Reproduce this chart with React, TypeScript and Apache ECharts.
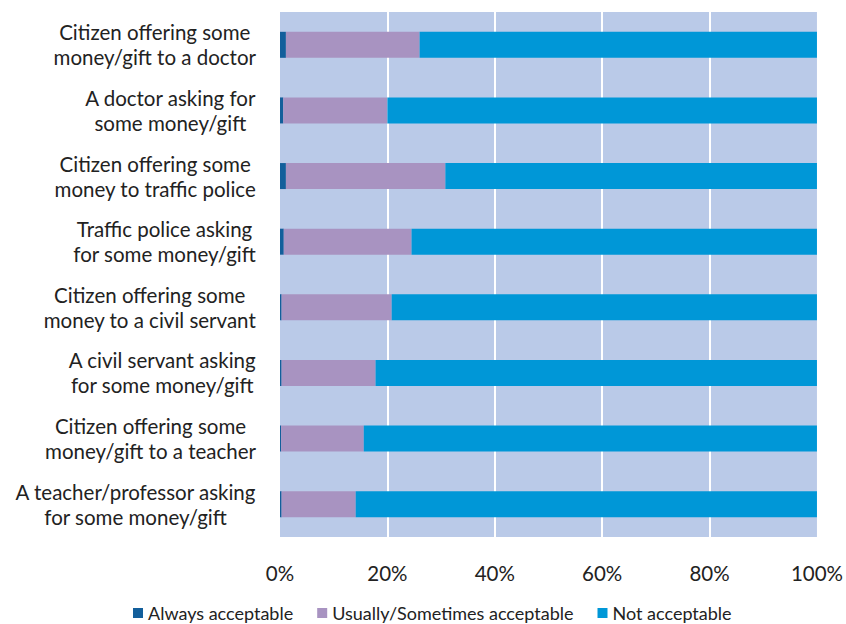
import React, { useEffect, useRef } from "react";
import * as echarts from "echarts";

const categories = [
  "Citizen offering some\nmoney/gift to a doctor",
  "A doctor asking for\nsome money/gift",
  "Citizen offering some\nmoney to traffic police",
  "Traffic police asking\nfor some money/gift",
  "Citizen offering some\nmoney to a civil servant",
  "A civil servant asking\nfor some money/gift",
  "Citizen offering some\nmoney/gift to a teacher",
  "A teacher/professor asking\nfor some money/gift",
];

const alwaysAcceptable = [1.1, 0.6, 1.1, 0.7, 0.3, 0.3, 0.2, 0.3];
const usuallyAcceptable = [24.9, 19.4, 29.7, 23.8, 20.5, 17.5, 15.4, 13.8];
const notAcceptable = [74.0, 80.0, 69.2, 75.5, 79.2, 82.2, 84.4, 85.9];

const tickLabels = ["0%", "20%", "40%", "60%", "80%", "100%"];

const FONT = "Lato";

export default function App() {
  const ref = useRef<HTMLDivElement>(null);
  useEffect(() => {
    if (!ref.current) return;
    const chart = echarts.init(ref.current, null, { renderer: "svg" });
    const mk = (name: string, data: number[], color: string) => ({
      name,
      type: "bar",
      stack: "total",
      barWidth: 26,
      data,
      itemStyle: { color },
    });
    chart.setOption({
      animation: false,
      textStyle: { fontFamily: FONT },
      grid: {
        left: 280,
        right: 28,
        top: 12,
        bottom: 87,
        show: true,
        backgroundColor: "#BACAE8",
        borderWidth: 0,
      },
      legend: {
        left: 133,
        top: 602,
        itemWidth: 10,
        itemHeight: 10,
        itemGap: 24,
        padding: 0,
        icon: "rect",
        textStyle: { fontFamily: FONT, fontSize: 18, lineHeight: 22, color: "#222" },
        data: ["Always acceptable", "Usually/Sometimes acceptable", "Not acceptable"],
      },
      xAxis: {
        type: "value",
        min: 0,
        max: 100,
        interval: 20,
        axisLine: { show: false },
        axisTick: { show: false },
        axisLabel: {
          margin: 25,
          fontFamily: FONT,
          fontSize: 20.5,
          color: "#222",
          formatter: (v: number) => tickLabels[Math.round(v / 20)],
        },
        splitLine: {
          show: true,
          showMinLine: false,
          showMaxLine: false,
          lineStyle: { color: "#FFFFFF", width: 2 },
        },
      },
      yAxis: {
        type: "category",
        inverse: true,
        data: categories,
        axisLine: { show: false },
        axisTick: { show: false },
        axisLabel: {
          margin: 24,
          fontFamily: FONT,
          fontSize: 20.5,
          lineHeight: 25,
          color: "#222",
          formatter: (v: string) =>
            v
              .split("\n")
              .map((s) => `{c|${s}}`)
              .join("\n"),
          rich: {
            c: { align: "center", fontFamily: FONT, fontSize: 20.5, lineHeight: 25, color: "#222" },
          },
        },
      },
      series: [
        mk("Always acceptable", alwaysAcceptable, "#135F9B"),
        mk("Usually/Sometimes acceptable", usuallyAcceptable, "#A893C1"),
        mk("Not acceptable", notAcceptable, "#0097D7"),
      ],
    });
    return () => chart.dispose();
  }, []);
  return (
    <div
      ref={ref}
      style={{ position: "absolute", left: 0, top: 0, width: 846, height: 624 }}
    />
  );
}
